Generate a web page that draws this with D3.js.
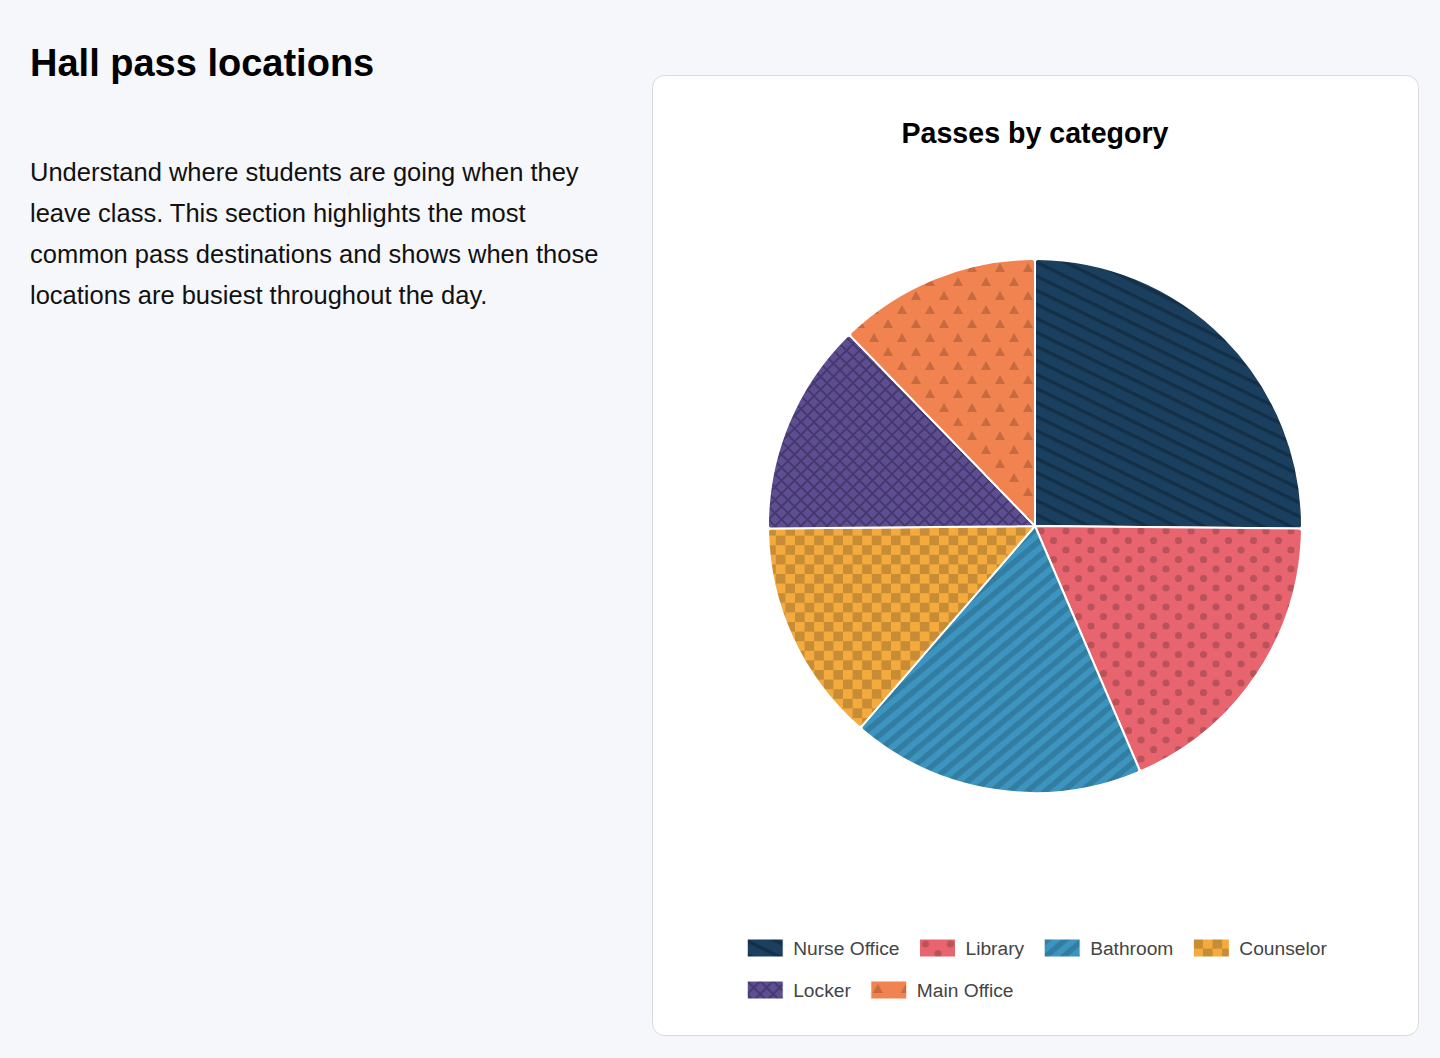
<!DOCTYPE html>
<html>
<head>
<meta charset="utf-8">
<script src="https://cdn.jsdelivr.net/npm/d3@7"></script>
<style>
  html, body { margin: 0; padding: 0; background: #f6f7fb; }
  svg { display: block; }
</style>
</head>
<body>
<script>
const categories = ["Nurse Office", "Library", "Bathroom", "Counselor", "Locker", "Main Office"];
const passCounts = [41, 30, 29, 22, 21, 20];
const baseColors = ["#1b3f5e", "#e8646f", "#3c94bf", "#f4aa3c", "#5e4e91", "#f0834f"];
const markColors = ["#133048", "#b9525b", "#327ea3", "#c78c36", "#46396f", "#c66a3f"];
const introLines = [
    "Understand where students are going when they",
    "leave class. This section highlights the most",
    "common pass destinations and shows when those",
    "locations are busiest throughout the day."
];

const width = 1440, height = 1058;
const font = "'Helvetica Neue', Helvetica, Arial, 'Liberation Sans', sans-serif";

const svg = d3.select("body").append("svg")
    .attr("width", width)
    .attr("height", height)
    .attr("viewBox", [0, 0, width, height])
    .style("font-family", font);

// patterns, one per category
const defs = svg.append("defs");
function pat(i, w, h, transform) {
    const p = defs.append("pattern")
        .attr("id", "pat" + i)
        .attr("patternUnits", "userSpaceOnUse")
        .attr("width", w).attr("height", h);
    if (transform) p.attr("patternTransform", transform);
    p.append("rect").attr("width", w).attr("height", h).attr("fill", baseColors[i]);
    return p;
}
// nurse office: thin diagonal lines going down-right
pat(0, 12, 12.6, "rotate(26)")
    .append("rect").attr("y", 0).attr("width", 12).attr("height", 3.4).attr("fill", markColors[0]);
// library: staggered dots
const pLib = pat(1, 25, 19);
[[6, 5], [18.5, 14.5]].forEach(c => pLib.append("circle")
    .attr("cx", c[0]).attr("cy", c[1]).attr("r", 3.6).attr("fill", markColors[1]));
// bathroom: wide stripes going up-right
pat(2, 12, 11.5, "rotate(-40)")
    .append("rect").attr("width", 12).attr("height", 5.6).attr("fill", markColors[2]);
// counselor: checkerboard
const pCou = pat(3, 19.2, 19.2);
[[0, 0], [9.6, 9.6]].forEach(c => pCou.append("rect")
    .attr("x", c[0]).attr("y", c[1]).attr("width", 9.6).attr("height", 9.6).attr("fill", markColors[3]));
// locker: cross hatch
pat(4, 13, 13)
    .append("path").attr("d", "M-3,-3L16,16M16,-3L-3,16")
    .attr("stroke", markColors[4]).attr("stroke-width", 2).attr("fill", "none");
// main office: staggered triangles
const pMain = pat(5, 28, 28);
[[7, 3], [21, 17]].forEach(c => pMain.append("path")
    .attr("d", `M${c[0]},${c[1]}L${c[0] + 5},${c[1] + 9}L${c[0] - 5},${c[1] + 9}Z`)
    .attr("fill", markColors[5]));

// left side text
svg.append("text")
    .attr("x", 30).attr("y", 76)
    .attr("font-size", 38).attr("font-weight", "bold").attr("fill", "#000")
    .text("Hall pass locations");

svg.append("g").selectAll("text")
    .data(introLines)
    .join("text")
    .attr("x", 30)
    .attr("y", (d, i) => 181 + i * 41)
    .attr("font-size", 25.5).attr("fill", "#111")
    .text(d => d);

// card
const card = { x: 652, y: 75, w: 766, h: 960 };
svg.append("rect")
    .attr("x", card.x + 0.5).attr("y", card.y + 0.5)
    .attr("width", card.w).attr("height", card.h)
    .attr("rx", 12)
    .attr("fill", "#fff").attr("stroke", "#dadada");

svg.append("text")
    .attr("x", 1035).attr("y", 143)
    .attr("text-anchor", "middle")
    .attr("font-size", 28.6).attr("font-weight", "bold").attr("fill", "#000")
    .text("Passes by category");

// pie
const radius = 267;
const pie = d3.pie().sort(null).value(d => d)(passCounts);
const arc = d3.arc().innerRadius(0).outerRadius(radius).cornerRadius(3);

svg.append("g")
    .attr("transform", "translate(1035,526)")
    .selectAll("path")
    .data(pie)
    .join("path")
    .attr("d", arc)
    .attr("fill", (d, i) => `url(#pat${i})`)
    .attr("stroke", "#fff")
    .attr("stroke-width", 2)
    .attr("stroke-linejoin", "round");

// legend, flowing rows
const legend = svg.append("g");
const boxW = 36, boxH = 18, textGap = 10, itemGap = 20, rowH = 42;
const items = legend.selectAll("g")
    .data(categories)
    .join("g");
items.append("rect")
    .attr("width", boxW).attr("height", boxH)
    .attr("fill", (d, i) => `url(#pat${i})`)
    .attr("stroke", "#fff").attr("stroke-width", 1);
items.append("text")
    .attr("x", boxW + textGap).attr("y", boxH / 2)
    .attr("dy", "0.36em")
    .attr("font-size", 19.2).attr("fill", "#444")
    .text(d => d);

const widths = [];
items.each(function () {
    widths.push(boxW + textGap + d3.select(this).select("text").node().getComputedTextLength());
});
const maxRow = 620;
const rows = [[]];
let rowW = 0;
widths.forEach((w, i) => {
    const add = (rows[rows.length - 1].length ? itemGap : 0) + w;
    if (rowW + add > maxRow && rows[rows.length - 1].length) {
        rows.push([i]); rowW = w;
    } else {
        rows[rows.length - 1].push(i); rowW += add;
    }
});
const firstRowW = d3.sum(rows[0], i => widths[i]) + itemGap * (rows[0].length - 1);
const startX = 1037 - firstRowW / 2;
const pos = [];
rows.forEach((r, ri) => {
    let x = startX;
    r.forEach(i => { pos[i] = [x, 939 + ri * rowH]; x += widths[i] + itemGap; });
});
items.attr("transform", (d, i) => `translate(${pos[i][0]},${pos[i][1]})`);
</script>
</body>
</html>
